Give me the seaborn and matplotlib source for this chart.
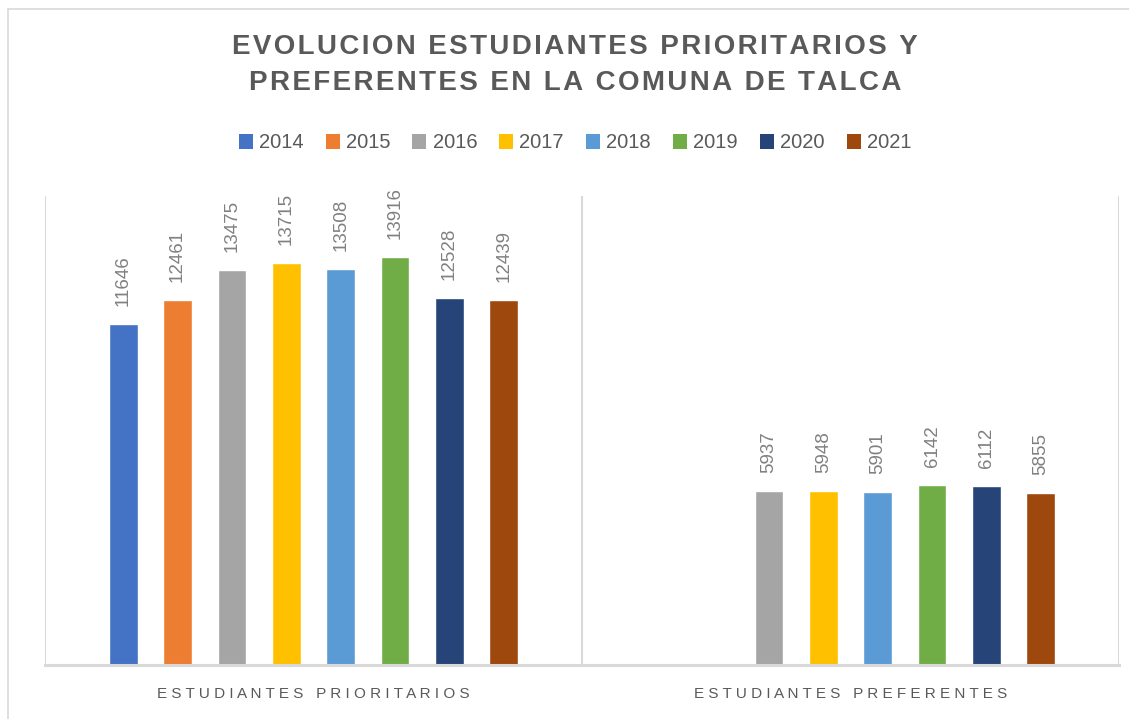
import numpy as np
import pandas as pd
import matplotlib
matplotlib.use("Agg")
import matplotlib.pyplot as plt
from matplotlib.lines import Line2D
from matplotlib.patches import Patch
import seaborn as sns

categories = ["ESTUDIANTES PRIORITARIOS", "ESTUDIANTES PREFERENTES"]
years = ["2014", "2015", "2016", "2017", "2018", "2019", "2020", "2021"]
prioritarios = [11646, 12461, 13475, 13715, 13508, 13916, 12528, 12439]
preferentes = [np.nan, np.nan, 5937, 5948, 5901, 6142, 6112, 5855]
colors = ["#4472C4", "#ED7D31", "#A5A5A5", "#FFC000", "#5B9BD5", "#70AD47", "#264478", "#9E480E"]
title = "EVOLUCION ESTUDIANTES PRIORITARIOS Y\nPREFERENTES EN LA COMUNA DE TALCA"

rows = []
for cat, vals in zip(categories, [prioritarios, preferentes]):
    for y, v in zip(years, vals):
        rows.append({"cat": cat, "year": y, "value": v})
df = pd.DataFrame(rows).dropna()

sns.set_theme(style="white")
plt.rcParams["font.family"] = ["Liberation Sans", "DejaVu Sans"]

def spaced(s, sep="\u2009"):
    return "\n".join(sep.join(list(line)) for line in s.split("\n"))

fig = plt.figure(figsize=(11.29, 7.19), dpi=100)
ax = fig.add_axes([45 / 1129, 54 / 719, (1119 - 45) / 1129, (665 - 196) / 719])

sns.barplot(data=df, x="cat", y="value", hue="year", order=categories, hue_order=years,
            palette=colors, width=0.81, gap=0.47, ax=ax, legend=False, saturation=1,
            err_kws={"linewidth": 0})

for cont in ax.containers:
    ax.bar_label(cont, fmt="%d", rotation=90, padding=13, color="#808080", fontsize=13.5)

ax.set_ylim(0, 16000)
ax.set_xlim(-0.5, 1.5)
ax.set_yticks([])
ax.set_xlabel("")
ax.set_ylabel("")
ax.set_xticks([0, 1])
ax.set_xticklabels([spaced(c, " ") for c in categories], color="#595959", fontsize=11)
ax.tick_params(axis="x", length=0, pad=16)
for s in ["top", "right", "left"]:
    ax.spines[s].set_visible(False)
ax.spines["bottom"].set_color("#D9D9D9")
ax.spines["bottom"].set_linewidth(2.2)
for xv in [-0.5, 0.5, 1.5]:
    ax.axvline(xv, color="#D9D9D9", linewidth=1.5, zorder=0)

fig.text(575 / 1129, 1 - 65 / 719, spaced(title, "\u200a"), ha="center", va="center",
         fontsize=20, fontweight="bold", color="#595959", linespacing=1.45)

handles = [Patch(facecolor=c, edgecolor="none") for c in colors]
fig.legend(handles, years, loc="center", bbox_to_anchor=(575 / 1129, 1 - 143 / 719),
           ncol=8, frameon=False, fontsize=14.5, labelcolor="#595959",
           handlelength=0.7, handleheight=0.7, handletextpad=0.3, columnspacing=1.1)

fig.add_artist(Line2D([8 / 1129, 8 / 1129], [0, 1 - 9 / 719], transform=fig.transFigure,
                      color="#D9D9D9", linewidth=1.2))
fig.add_artist(Line2D([8 / 1129, 1], [1 - 9 / 719, 1 - 9 / 719], transform=fig.transFigure,
                      color="#D9D9D9", linewidth=1.2))

fig.savefig("out.png", dpi=100, facecolor="white")
